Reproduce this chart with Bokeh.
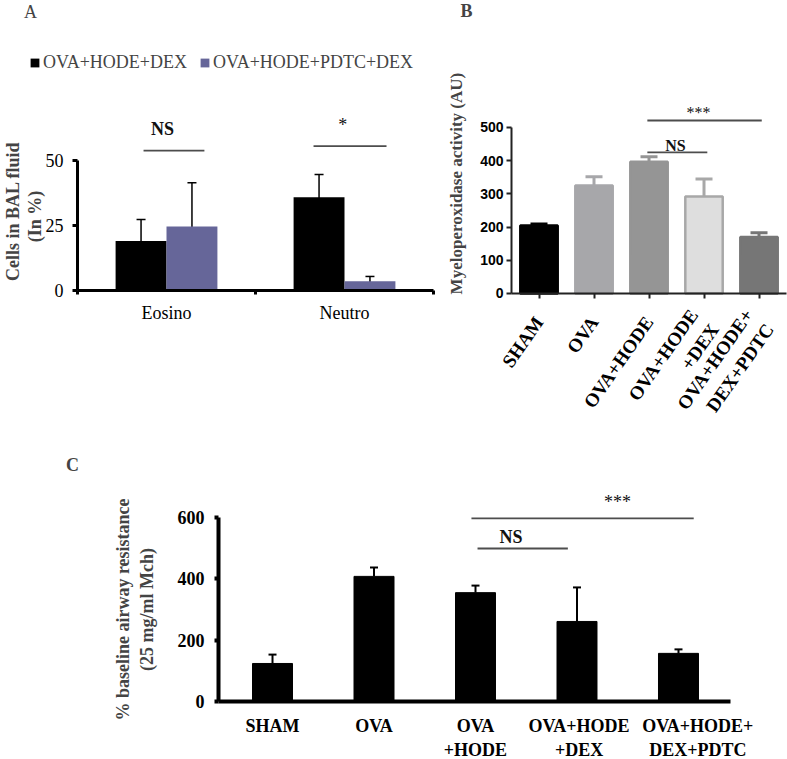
import math
from bokeh.plotting import figure
from bokeh.models import (Range1d, FixedTicker, ColumnDataSource, Whisker, TeeHead,
                          Label, Legend, LegendItem)
from bokeh.layouts import column, row
from bokeh.embed import file_html
from bokeh.resources import INLINE
from bokeh.core.properties import value

SERIF = "Liberation Serif"
SANS = "Liberation Sans"

# ---------------- Panel A data ----------------
a_categories = ["Eosino", "Neutro"]
a_series = ["OVA+HODE+DEX", "OVA+HODE+PDTC+DEX"]
a_dex_mean = [19.0, 35.9]
a_dex_sd = [8.3, 8.7]
a_pdtc_mean = [24.6, 3.6]
a_pdtc_sd = [16.8, 1.8]
a_yticks = [0, 25, 50]
a_colors = ["#000000", "#666699"]
a_ytitle = ["Cells in BAL fluid", "(In %)"]
# significance marks: (x0, x1, y_line, text, x_text, y_text, style)
a_sig = [(-0.129, 0.213, 53.8, "NS", -0.022, 62.3, "bold"),
         (0.826, 1.236, 55.5, "*", 0.99, 63.5, "normal")]

# ---------------- Panel B data ----------------
b_groups = ["SHAM", "OVA", "OVA+HODE", "OVA+HODE\n+DEX", "OVA+HODE+\nDEX+PDTC"]
b_mean = [205, 325, 397, 292, 170]
b_err = [4, 27, 15, 53, 13]
b_yticks = [0, 100, 200, 300, 400, 500]
b_fill = ["#000000", "#a7a7aa", "#959595", "#dedede", "#767676"]
b_line = ["#000000", "#a7a7aa", "#959595", "#a8a8a8", "#767676"]
b_sig = [(1.97, 3.06, 425, "NS", 2.48, 446, "bold"),
         (1.97, 4.05, 521, "***", 2.90, 545, "normal")]

# ---------------- Panel C data ----------------
c_groups = ["SHAM", "OVA", "OVA\n+HODE", "OVA+HODE\n+DEX", "OVA+HODE+\nDEX+PDTC"]
c_label_pos = [0, 1, 2, 3.02, 4.19]
c_mean = [124, 408, 355, 261, 157]
c_err = [29, 29, 23, 111, 13]
c_yticks = [0, 200, 400, 600]
c_sig = [(2.02, 2.91, 499, "NS", 2.35, 538, "bold"),
         (1.96, 4.15, 597, "***", 3.40, 649, "normal")]


def base_fig(w, h, xr, yr):
    p = figure(width=w, height=h, x_range=Range1d(*xr), y_range=Range1d(*yr),
               output_backend="svg", toolbar_location=None,
               min_border_left=0, min_border_right=0,
               min_border_top=0, min_border_bottom=0)
    p.xgrid.visible = False
    p.ygrid.visible = False
    p.outline_line_color = None
    p.background_fill_color = "white"
    return p


def style_axis(ax, font, size, style, lw, color="black", tick_out=5):
    ax.axis_line_width = lw
    ax.axis_line_color = color
    ax.major_tick_line_width = lw
    ax.major_tick_line_color = color
    ax.major_tick_in = 0
    ax.major_tick_out = tick_out
    ax.minor_tick_line_color = None
    ax.major_label_text_font = font
    ax.major_label_text_font_size = size
    ax.major_label_text_font_style = style
    ax.major_label_text_color = "black"


def add_sig(p, sig, size, color="#4d4d4d", lw=1.8):
    for x0, x1, y, txt, tx, ty, st in sig:
        p.segment(x0=[x0], x1=[x1], y0=[y], y1=[y], line_color=color, line_width=lw)
        p.text(x=[tx], y=[ty], text=[txt], text_font=value(SERIF), text_font_size=size,
               text_font_style=st, text_align="center", text_baseline="middle",
               text_color="#111111")


# ======================= Panel A =======================
pA = base_fig(440, 450, (-0.9326, 1.5393), (-61.54, 111.54))
xa = list(range(len(a_categories)))
bw = 0.286
src_dex = ColumnDataSource(dict(x=[i - bw / 2 for i in xa], top=a_dex_mean,
                                up=[m + s for m, s in zip(a_dex_mean, a_dex_sd)],
                                lo=[m - s for m, s in zip(a_dex_mean, a_dex_sd)]))
src_pdtc = ColumnDataSource(dict(x=[i + bw / 2 for i in xa], top=a_pdtc_mean,
                                 up=[m + s for m, s in zip(a_pdtc_mean, a_pdtc_sd)],
                                 lo=[m - s for m, s in zip(a_pdtc_mean, a_pdtc_sd)]))
r1 = pA.vbar(x="x", top="top", width=bw, bottom=0, source=src_dex,
             fill_color=a_colors[0], line_color=None)
r2 = pA.vbar(x="x", top="top", width=bw, bottom=0, source=src_pdtc,
             fill_color=a_colors[1], line_color=None)
for s in (src_dex, src_pdtc):
    pA.add_layout(Whisker(base="x", upper="up", lower="lo", source=s, dimension="height",
                          line_color="black", line_width=1.5,
                          upper_head=TeeHead(size=9, line_width=1.5, line_color="black"),
                          lower_head=TeeHead(size=9, line_width=1.5, line_color="black")))
pA.yaxis.fixed_location = -0.5
pA.yaxis.ticker = FixedTicker(ticks=a_yticks)
pA.yaxis.bounds = (0, 50)
style_axis(pA.yaxis[0], SERIF, "18px", "normal", 3)
pA.yaxis.major_label_standoff = 9
pA.xaxis.fixed_location = 0
pA.xaxis.ticker = FixedTicker(ticks=xa, minor_ticks=[-0.5, 0.5, 1.5])
pA.xaxis.bounds = (-0.5, 1.5)
style_axis(pA.xaxis[0], SERIF, "18px", "normal", 3, tick_out=0)
pA.xaxis.minor_tick_line_color = "black"
pA.xaxis.minor_tick_line_width = 3
pA.xaxis.minor_tick_in = 0
pA.xaxis.minor_tick_out = 4
pA.xaxis.major_label_overrides = {i: c for i, c in enumerate(a_categories)}
pA.xaxis.major_label_standoff = 9
add_sig(pA, a_sig, "18px")
for txt, xx, yy in zip(a_ytitle, (-0.862, -0.738), (30.5, 28.5)):
    pA.add_layout(Label(x=xx, y=yy, text=txt, angle=math.pi / 2, text_font=SERIF,
                        text_font_size="18px", text_font_style="bold",
                        text_align="center", text_baseline="middle"))
legA = Legend(items=[LegendItem(label=a_series[0], renderers=[r1]),
                     LegendItem(label=a_series[1], renderers=[r2])],
              orientation="horizontal", location=(29, 377), padding=0, margin=0,
              spacing=12, label_standoff=3, glyph_width=11, glyph_height=11,
              label_height=20, label_text_font=SERIF, label_text_font_size="18px",
              border_line_color=None, background_fill_alpha=0)
pA.add_layout(legA, "center")
pA.add_layout(Label(x=-0.764, y=107.3, text="A", text_font=SERIF, text_font_size="18px",
                    text_align="center", text_baseline="middle"))

# ======================= Panel B =======================
pB = base_fig(347, 450, (-1.791, 4.518), (-472.9, 882.5))
xb = list(range(len(b_groups)))
src_b = ColumnDataSource(dict(x=xb, top=b_mean, fill=b_fill, line=b_line))
pB.vbar(x="x", top="top", width=0.68, bottom=0, source=src_b,
        fill_color="fill", line_color="line", line_width=2.5)
for i in xb:
    s = ColumnDataSource(dict(x=[xb[i]], up=[b_mean[i] + b_err[i]], lo=[b_mean[i]]))
    pB.add_layout(Whisker(base="x", upper="up", lower="lo", source=s, dimension="height",
                          line_color=b_line[i], line_width=3,
                          upper_head=TeeHead(size=17, line_width=3, line_color=b_line[i]),
                          lower_head=None))
pB.yaxis.fixed_location = -0.5
pB.yaxis.ticker = FixedTicker(ticks=b_yticks)
pB.yaxis.bounds = (0, 500)
style_axis(pB.yaxis[0], SANS, "14px", "bold", 2, color="#222222", tick_out=5)
pB.yaxis.major_label_standoff = 3
pB.xaxis.fixed_location = 0
pB.xaxis.ticker = FixedTicker(ticks=xb)
pB.xaxis.bounds = (-0.5, 4.5)
style_axis(pB.xaxis[0], SERIF, "19px", "bold", 2, color="#222222", tick_out=5)
pB.xaxis.major_label_overrides = {i: g for i, g in enumerate(b_groups)}
pB.xaxis.major_label_orientation = 0.96
pB.xaxis.major_label_standoff = 20
add_sig(pB, b_sig, "16px")
pB.add_layout(Label(x=-1.318, y=852, text="B", text_font=SERIF, text_font_size="18px",
                    text_font_style="bold", text_align="center", text_baseline="middle"))
pB.add_layout(Label(x=-1.5, y=331, text="Myeloperoxidase activity (AU)", angle=math.pi / 2,
                    text_font=SERIF, text_font_size="17px", text_font_style="bold",
                    text_align="center", text_baseline="middle"))

# ======================= Panel C =======================
pC = base_fig(787, 309, (-2.680, 5.074), (-189.1, 818.5))
xc = list(range(len(c_groups)))
src_c = ColumnDataSource(dict(x=xc, top=c_mean,
                              up=[m + e for m, e in zip(c_mean, c_err)], lo=c_mean))
pC.vbar(x="x", top="top", width=0.394, bottom=0, source=src_c,
        fill_color="black", line_color="black")
pC.add_layout(Whisker(base="x", upper="up", lower="lo", source=src_c, dimension="height",
                      line_color="black", line_width=2,
                      upper_head=TeeHead(size=8, line_width=2, line_color="black"),
                      lower_head=None))
pC.yaxis.fixed_location = -0.532
pC.yaxis.ticker = FixedTicker(ticks=c_yticks)
pC.yaxis.bounds = (0, 600)
style_axis(pC.yaxis[0], SERIF, "18px", "bold", 4, tick_out=4)
pC.yaxis.major_label_standoff = 10
pC.yaxis.axis_label = "% baseline airway resistance\n(25 mg/ml Mch)"
pC.yaxis.axis_label_text_font = SERIF
pC.yaxis.axis_label_text_font_size = "18px"
pC.yaxis.axis_label_text_font_style = "bold"
pC.yaxis.axis_label_standoff = 18
pC.xaxis.fixed_location = 0
pC.xaxis.ticker = FixedTicker(ticks=c_label_pos)
pC.xaxis.bounds = (-0.532, 4.512)
style_axis(pC.xaxis[0], SERIF, "18px", "bold", 4, tick_out=0)
pC.xaxis.major_label_overrides = {pos: g for pos, g in zip(c_label_pos, c_groups)}
pC.xaxis.major_label_standoff = 14
add_sig(pC, c_sig, "18px")
pC.add_layout(Label(x=-1.97, y=769.6, text="C", text_font=SERIF, text_font_size="18px",
                    text_font_style="bold", text_align="center", text_baseline="middle"))

layout = column(row(pA, pB), pC)
open("out.html", "w").write(file_html(layout, INLINE))
